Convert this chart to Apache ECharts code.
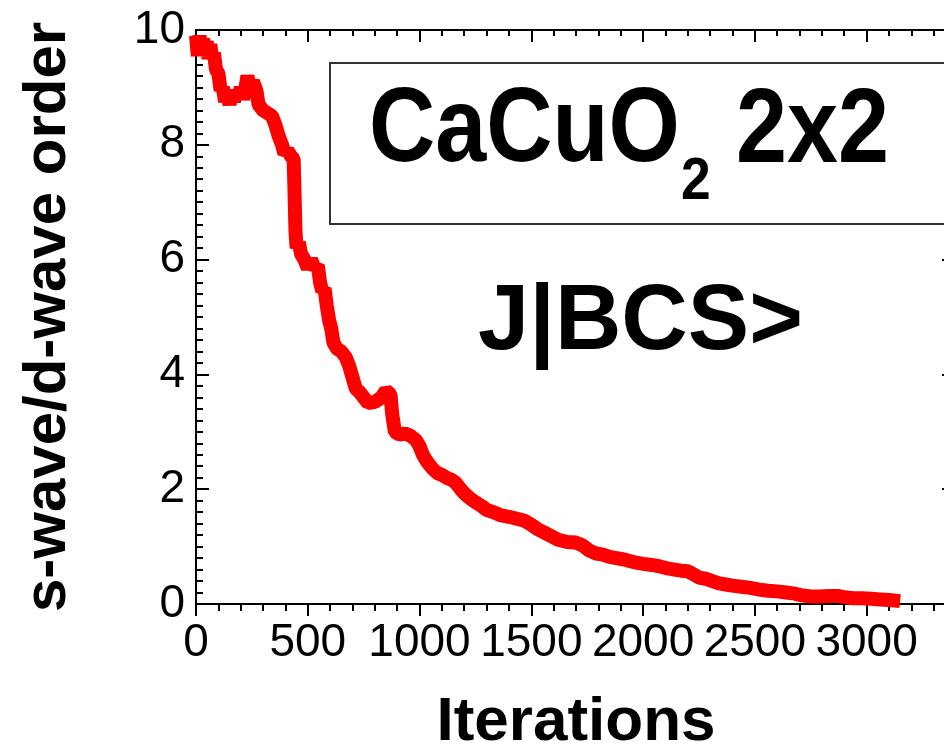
<!DOCTYPE html>
<html>
<head>
<meta charset="utf-8">
<title>CaCuO2 2x2 J|BCS&gt; — s-wave/d-wave order vs iterations</title>
<script src="https://cdn.jsdelivr.net/npm/echarts@6/dist/echarts.min.js"></script>
<style>
  html, body { margin: 0; padding: 0; background: #fff; overflow: hidden; }
  #chart { width: 944px; height: 751px; }
</style>
</head>
<body>
<div id="chart"></div>
<script>
// Optimisation history: ratio of s-wave to d-wave order parameter per iteration
const iterations = [
  0, 8, 16, 24, 32, 40, 48, 56, 64, 72, 80, 90, 100, 110, 120, 130, 140, 150, 160, 170,
  180, 190, 200, 210, 220, 230, 240, 255, 270, 280,
  300, 320, 340, 355, 370, 385, 395, 410, 425, 437, 440, 445, 450, 460, 470, 485, 500,
  515, 530, 545, 555, 565, 575, 585, 595, 605, 615, 630, 650, 670, 685, 700, 715, 730, 750,
  770, 800, 830, 850, 870, 878, 890, 910, 935, 960, 985, 1000, 1015, 1030,
  1045, 1060, 1080, 1100, 1120, 1140, 1160, 1180, 1200, 1220, 1240, 1260, 1280,
  1300, 1330, 1360, 1400, 1440, 1470, 1500, 1530, 1560, 1590, 1620, 1660, 1700,
  1730, 1760, 1790, 1820, 1850, 1880, 1910, 1940, 1970, 2000, 2040, 2080, 2110,
  2140, 2170, 2200, 2225, 2250, 2280, 2310, 2340, 2370, 2400, 2440, 2480, 2520,
  2560, 2600, 2640, 2680, 2710, 2750, 2790, 2830, 2870, 2900, 2940, 2980, 3020,
  3060, 3100, 3150
];
const swaveOverDwave = [
  9.9, 9.55, 9.9, 9.6, 9.85, 9.55, 9.8, 9.5, 9.75, 9.5, 9.6, 9.3, 9.25, 8.95, 9.0, 8.75, 8.9, 8.7, 8.95, 8.75,
  8.95, 8.8, 9.0, 8.8, 8.95, 9.2, 9.0, 9.1, 8.95, 8.7,
  8.6, 8.55, 8.5, 8.35, 8.15, 8.0, 7.85, 7.9, 7.8, 7.75, 7.3, 6.5, 6.2, 6.3, 6.1, 6.0, 5.85,
  6.0, 5.85, 5.9, 5.6, 5.45, 5.5, 5.2, 4.95, 4.8, 4.55, 4.45, 4.4, 4.3, 4.15, 3.95, 3.75, 3.7, 3.6,
  3.5, 3.52, 3.6, 3.72, 3.65, 3.3, 3.0, 2.95, 2.97, 2.93, 2.85, 2.75, 2.6, 2.5,
  2.42, 2.35, 2.28, 2.25, 2.2, 2.17, 2.12, 2.02, 1.93, 1.86, 1.8, 1.75, 1.7,
  1.64, 1.6, 1.55, 1.52, 1.48, 1.45, 1.38, 1.3, 1.24, 1.18, 1.12, 1.08, 1.07,
  1.02, 0.93, 0.88, 0.86, 0.82, 0.8, 0.78, 0.75, 0.72, 0.70, 0.68, 0.65, 0.62,
  0.6, 0.58, 0.57, 0.52, 0.46, 0.44, 0.40, 0.36, 0.34, 0.32, 0.30, 0.28, 0.25,
  0.23, 0.22, 0.20, 0.18, 0.15, 0.13, 0.13, 0.14, 0.14, 0.12, 0.10, 0.10, 0.09,
  0.08, 0.07, 0.05
];

// Axis ranges and labelled ticks
const xRange = [0, 3400];
const xTickLabels = ['0', '500', '1000', '1500', '2000', '2500', '3000'];
const yRange = [0, 10];
const yTickLabels = ['0', '2', '4', '6', '8', '10'];

const xAxisTitle = 'Iterations';
const yAxisTitle = 's-wave/d-wave order';
const systemName = 'CaCuO';
const systemSub = '2';
const cellSize = '2x2';
const wavefunction = 'J|BCS>';

const seriesData = iterations.map((it, i) => [it, swaveOverDwave[i]]);

const numFont = "'Liberation Sans', Arial, Helvetica, sans-serif";
const black = '#000';

function tickFormatter(labels) {
  return v => (labels.indexOf(String(v)) >= 0 ? String(v) : '');
}

const boldText = (size) => `bold ${size}px ${numFont}`;

const chart = echarts.init(document.getElementById('chart'), null, { renderer: 'canvas' });

chart.setOption({
  animation: false,
  backgroundColor: '#fff',
  grid: {
    left: 196, top: 30, width: 760, height: 574,
    containLabel: false, outerBoundsMode: 'none'
  },
  xAxis: [
    { // bottom: major ticks and labels
      type: 'value', position: 'bottom', min: xRange[0], max: xRange[1], interval: 500,
      axisLine: { show: true, onZero: false, lineStyle: { color: black, width: 2 } },
      axisTick: { show: true, inside: false, length: 12, lineStyle: { color: black, width: 2 } },
      axisLabel: {
        show: true, margin: 16, color: black, fontSize: 46, fontFamily: numFont,
        showMaxLabel: false, hideOverlap: false, formatter: tickFormatter(xTickLabels)
      },
      splitLine: { show: false },
      name: xAxisTitle, nameLocation: 'middle', nameGap: 88,
      nameTextStyle: { color: black, fontSize: 62, fontWeight: 'bold', fontFamily: numFont }
    },
    { // bottom: minor ticks
      type: 'value', position: 'bottom', min: xRange[0], max: xRange[1], interval: 100,
      axisLine: { show: false, onZero: false },
      axisTick: { show: true, inside: false, length: 7, lineStyle: { color: black, width: 2 } },
      axisLabel: { show: false }, splitLine: { show: false }
    },
    { // top: major ticks
      type: 'value', position: 'top', min: xRange[0], max: xRange[1], interval: 500,
      axisLine: { show: true, onZero: false, lineStyle: { color: black, width: 2 } },
      axisTick: { show: true, inside: true, length: 12, lineStyle: { color: black, width: 2 } },
      axisLabel: { show: false }, splitLine: { show: false }
    },
    { // top: minor ticks
      type: 'value', position: 'top', min: xRange[0], max: xRange[1], interval: 100,
      axisLine: { show: false, onZero: false },
      axisTick: { show: true, inside: true, length: 6, lineStyle: { color: black, width: 2 } },
      axisLabel: { show: false }, splitLine: { show: false }
    }
  ],
  yAxis: [
    {
      type: 'value', position: 'left', min: yRange[0], max: yRange[1], interval: 2,
      axisLine: { show: true, onZero: false, lineStyle: { color: black, width: 2 } },
      axisTick: { show: true, inside: true, length: 13, lineStyle: { color: black, width: 2 } },
      minorTick: { show: true, splitNumber: 10, length: 7, lineStyle: { color: black, width: 2 } },
      axisLabel: {
        show: true, margin: 11, color: black, fontSize: 46, fontFamily: numFont,
        formatter: tickFormatter(yTickLabels)
      },
      splitLine: { show: false }, minorSplitLine: { show: false },
      name: yAxisTitle, nameLocation: 'middle', nameGap: 118, nameRotate: 90,
      nameTextStyle: { color: black, fontSize: 60, fontWeight: 'bold', fontFamily: numFont }
    },
    {
      type: 'value', position: 'right', min: yRange[0], max: yRange[1], interval: 2,
      axisLine: { show: true, onZero: false, lineStyle: { color: black, width: 2 } },
      axisTick: { show: true, inside: true, length: 14, lineStyle: { color: black, width: 2 } },
      minorTick: { show: true, splitNumber: 10, length: 7, lineStyle: { color: black, width: 2 } },
      axisLabel: { show: false }, splitLine: { show: false }
    }
  ],
  series: [{
    type: 'line',
    xAxisIndex: 0, yAxisIndex: 0,
    data: seriesData,
    showSymbol: false,
    clip: true,
    lineStyle: { color: '#ff0000', width: 14, cap: 'butt', join: 'bevel' },
    z: 3
  }],
  graphic: [
    {
      type: 'rect', z: 10,
      shape: { x: 330, y: 63, width: 720, height: 161 },
      style: { fill: '#fff', stroke: '#333', lineWidth: 2 }
    },
    {
      type: 'text', z: 11, x: 369, y: 132, scaleX: 0.865,
      style: { text: systemName, x: 0, y: 0, font: boldText(106), fill: black, align: 'left', verticalAlign: 'middle' }
    },
    {
      type: 'text', z: 11, x: 681, y: 182, scaleX: 0.89,
      style: { text: systemSub, x: 0, y: 0, font: boldText(60), fill: black, align: 'left', verticalAlign: 'middle' }
    },
    {
      type: 'text', z: 11, x: 736, y: 133, scaleX: 0.865,
      style: { text: cellSize, x: 0, y: 0, font: boldText(106), fill: black, align: 'left', verticalAlign: 'middle' }
    },
    {
      type: 'text', z: 11, x: 478, y: 324,
      style: { text: wavefunction, x: 0, y: 0, font: boldText(92), fill: black, align: 'left', verticalAlign: 'middle' }
    }
  ]
});
</script>
</body>
</html>
